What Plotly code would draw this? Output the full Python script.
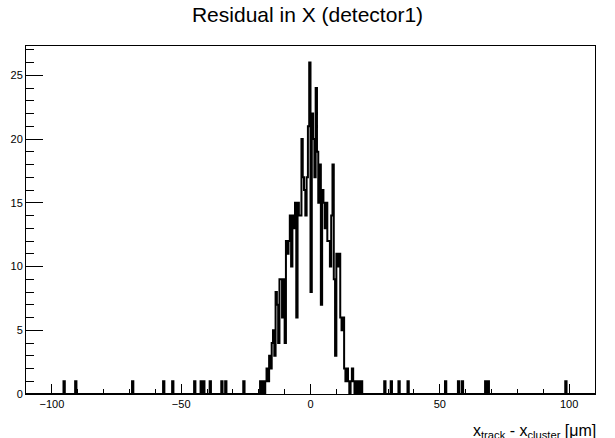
import numpy as np
import plotly.graph_objects as go

# ---- data ----
bin_width = 0.5            # µm
hist_lo, hist_hi = -110.0, 110.0

# central core: counts per 0.5 µm bin, starting at lower edge -20.0 µm
core_start = -20.0
core_counts = [0, 1, 0, 1, 0, 1, 2, 1, 3, 2,
               4, 5, 3, 8, 7, 4, 9, 9, 6, 9,
               4, 12, 11, 12, 14, 10, 14, 13, 15, 6,
               15, 14, 14, 20, 17, 16, 14, 17, 21, 26,
               8, 22, 20, 17, 24, 19, 15, 18, 7, 16,
               15, 13, 15, 12, 12, 10, 14, 18, 9, 3,
               11, 10, 11, 6, 5, 6, 2, 1, 2, 1,
               0, 1, 2, 1, 0, 1, 0, 1, 0, 1]

# isolated single entries in the tails (µm)
tail_entries = [-95.2, -90.8, -69.0, -57.0, -53.2, -44.9, -42.2, -41.2, -38.6,
                -34.1, -33.0, -25.7, 28.8, 31.4, 34.2, 37.8, 52.2, 57.4, 58.9,
                67.6, 68.9, 98.6]

title_text = "Residual in X (detector1)"
x_title = "x<sub>track</sub> - x<sub>cluster</sub> [μm]"

# ---- build histogram ----
nbins = int(round((hist_hi - hist_lo) / bin_width))
edges = np.linspace(hist_lo, hist_hi, nbins + 1)
counts = np.zeros(nbins)
i0 = int(round((core_start - hist_lo) / bin_width))
counts[i0:i0 + len(core_counts)] += np.array(core_counts, dtype=float)
for v in tail_entries:
    counts[int((v - hist_lo) // bin_width)] += 1

xs = np.concatenate([[edges[0]], edges])
ys = np.concatenate([[0.0], counts, [0.0]])

ymax = counts.max() * 1.05

fig = go.Figure()
fig.add_trace(go.Scatter(x=xs, y=ys, mode="lines", line_shape="hv",
                         line=dict(color="black", width=2),
                         hoverinfo="skip", showlegend=False))

font_family = "Liberation Sans, Arial, Helvetica, sans-serif"

fig.update_layout(
    width=615, height=438,
    margin=dict(l=26, r=20, t=46, b=44, autoexpand=False),
    paper_bgcolor="white", plot_bgcolor="white",
    font=dict(family=font_family, color="black", size=11),
    title=dict(text=title_text, x=0.5, xref="container", xanchor="center",
               y=1 - 15 / 438, yref="container", yanchor="middle",
               font=dict(size=21, family=font_family, color="black")),
    xaxis=dict(range=[hist_lo, hist_hi], showline=True, linecolor="black",
               linewidth=1, mirror=True, ticks="inside", ticklen=10,
               tickwidth=1, tickcolor="black", dtick=50, tick0=0,
               showgrid=False, zeroline=False, automargin=False,
               minor=dict(ticks="inside", ticklen=5, dtick=10, tick0=0,
                          tickcolor="black", showgrid=False),
               tickfont=dict(size=11)),
    yaxis=dict(range=[0, ymax], showline=True, linecolor="black",
               linewidth=1, mirror=True, ticks="inside", ticklen=17,
               tickwidth=1, tickcolor="black", dtick=5, tick0=0,
               showgrid=False, zeroline=False, automargin=False,
               minor=dict(ticks="inside", ticklen=8, dtick=1, tick0=0,
                          tickcolor="black", showgrid=False),
               tickfont=dict(size=11)),
)

fig.add_annotation(text=x_title, xref="paper", yref="paper", x=1.005, y=-0.075,
                   xanchor="right", yanchor="top", showarrow=False,
                   font=dict(size=16, family=font_family, color="black"))

fig.write_html("out.html")
